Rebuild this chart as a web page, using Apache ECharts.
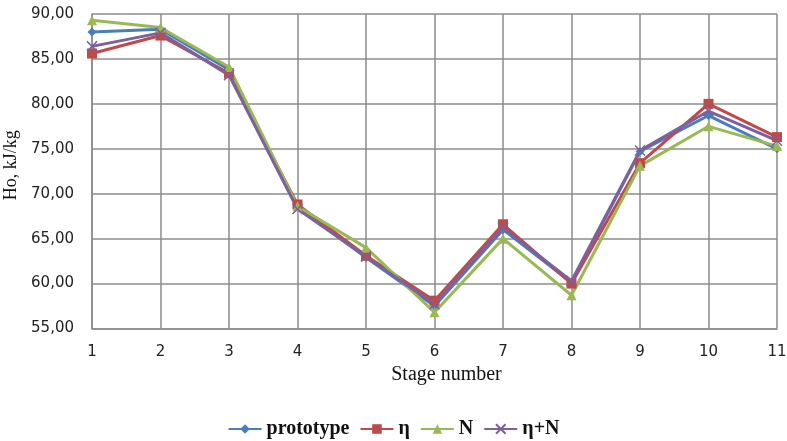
<!DOCTYPE html>
<html><head><meta charset="utf-8">
<script src="https://cdn.jsdelivr.net/npm/echarts@6/dist/echarts.min.js"></script>
<style>html,body{margin:0;padding:0;background:#fff}#c{width:787px;height:441px}</style>
</head><body><div id="c"></div>
<script>
const categories = ['1','2','3','4','5','6','7','8','9','10','11'];
const prototype = [88.0, 88.3, 83.8, 68.5, 62.9, 57.5, 66.0, 60.1, 74.7, 78.7, 75.0];
const eta       = [85.6, 87.6, 83.4, 68.8, 63.1, 58.1, 66.6, 60.0, 73.4, 80.0, 76.3];
const nSeries   = [89.3, 88.5, 84.1, 68.6, 64.0, 56.8, 65.0, 58.7, 73.1, 77.5, 75.3];
const etaN      = [86.4, 87.9, 83.2, 68.3, 63.0, 57.7, 66.2, 60.3, 74.8, 79.2, 75.9];
const seriesNames = ['prototype', 'η', 'N', 'η+N'];
const yTicks = { min: 55, max: 90, interval: 5 };

const colors = ['#4A7EBB', '#BE4B48', '#98B954', '#7D60A0'];
const symbols = ['diamond', 'rect', 'triangle', 'path://M0,0L10,10M10,0L0,10'];
const sizes = [9, 10, 10, 10];
const dataSets = [prototype, eta, nSeries, etaN];

const chart = echarts.init(document.getElementById('c'));
chart.setOption({
  animation: false,
  color: colors,
  grid: { left: 92, right: 10, top: 14, bottom: 112.5, containLabel: false, outerBoundsMode: 'none' },
  legend: {
    top: 414, left: 'center', itemWidth: 33, itemHeight: 12, itemGap: 10,
    textStyle: { fontFamily: 'Liberation Serif', fontSize: 20, fontWeight: 'bold', color: '#111' },
    data: seriesNames
  },
  xAxis: {
    type: 'category', data: categories, boundaryGap: false,
    name: 'Stage number', nameLocation: 'middle', nameGap: 35,
    nameTextStyle: { fontFamily: 'Liberation Serif', fontSize: 20, color: '#111', padding: [0, 0, 0, 24] },
    axisLine: { show: true, lineStyle: { color: '#8c8c8c', width: 1.5 } },
    axisTick: { show: false },
    axisLabel: { fontFamily: 'DejaVu Sans', fontSize: 15, color: '#222', margin: 16 },
    splitLine: { show: true, lineStyle: { color: '#8c8c8c', width: 1.5 } }
  },
  yAxis: {
    type: 'value', min: yTicks.min, max: yTicks.max, interval: yTicks.interval,
    name: 'Ho, kJ/kg', nameLocation: 'middle', nameGap: 70, nameRotate: 90,
    nameTextStyle: { fontFamily: 'Liberation Serif', fontSize: 18, color: '#111', padding: [0, 0, 0, 12] },
    axisLine: { show: true, lineStyle: { color: '#8c8c8c', width: 1.5 } },
    axisTick: { show: false },
    axisLabel: { fontFamily: 'DejaVu Sans', fontSize: 15, color: '#222', margin: 18,
      formatter: v => v.toFixed(2).replace('.', ',') },
    splitLine: { show: true, lineStyle: { color: '#8c8c8c', width: 1.5 } }
  },
  series: dataSets.map((d, i) => ({
    name: seriesNames[i], type: 'line', data: d,
    symbol: symbols[i], symbolSize: sizes[i], showAllSymbol: true,
    lineStyle: { width: 3, color: colors[i] },
    itemStyle: i === 3 ? { color: colors[i], borderColor: colors[i], borderWidth: 1.5 } : { color: colors[i] }
  }))
});
</script></body></html>
